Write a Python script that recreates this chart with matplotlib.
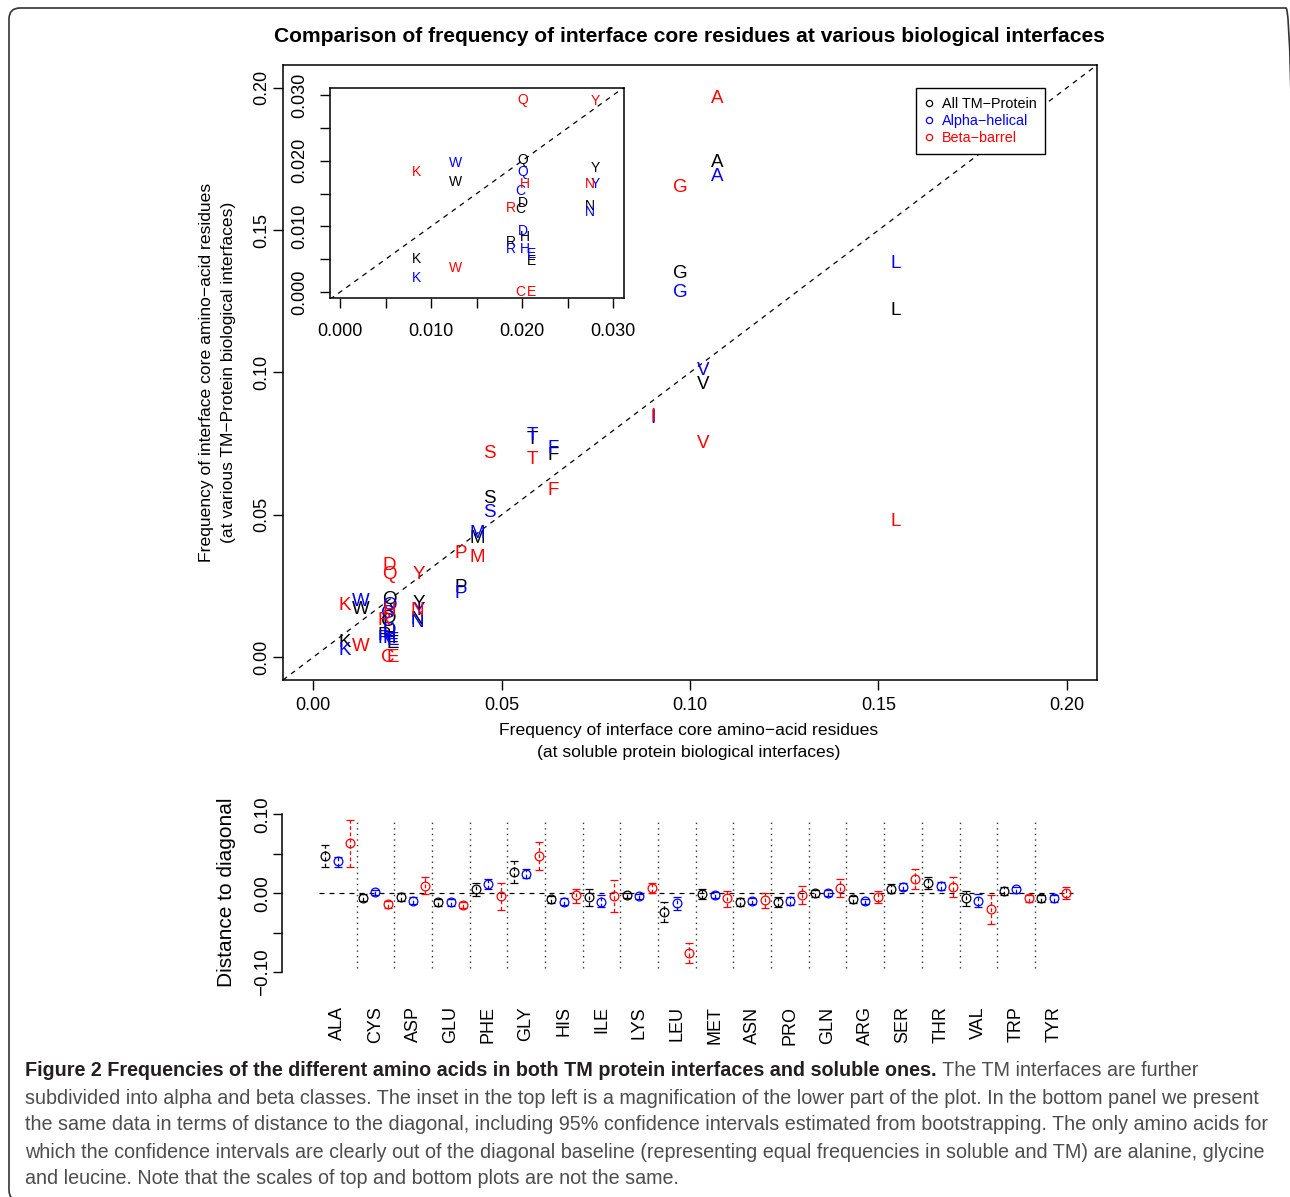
import matplotlib
matplotlib.use('Agg')
import matplotlib.pyplot as plt
from matplotlib.lines import Line2D
from matplotlib.patches import FancyBboxPatch
from matplotlib.transforms import IdentityTransform
import numpy as np

W, H = 1290, 1197
plt.rcParams['font.family'] = ['Liberation Sans', 'DejaVu Sans']

# one-letter / three-letter codes (alphabetical by one-letter code)
letters = ['A', 'C', 'D', 'E', 'F', 'G', 'H', 'I', 'K', 'L',
           'M', 'N', 'P', 'Q', 'R', 'S', 'T', 'V', 'W', 'Y']
codes3 = ['ALA', 'CYS', 'ASP', 'GLU', 'PHE', 'GLY', 'HIS', 'ILE', 'LYS', 'LEU',
          'MET', 'ASN', 'PRO', 'GLN', 'ARG', 'SER', 'THR', 'VAL', 'TRP', 'TYR']

# frequency at soluble interfaces (x) and at TM interfaces (y)
x_soluble = [0.1072, 0.0198, 0.0201, 0.0210, 0.0636, 0.0973, 0.0203, 0.0902, 0.0084, 0.1546,
             0.0435, 0.0275, 0.0391, 0.0201, 0.0188, 0.0468, 0.0581, 0.1034, 0.0127, 0.0280]
y_all = [0.1737, 0.0126, 0.0136, 0.0048, 0.0709, 0.1347, 0.0084, 0.0842, 0.0050, 0.1218,
         0.0416, 0.0131, 0.0246, 0.0202, 0.0077, 0.0557, 0.0764, 0.0958, 0.0167, 0.0189]
y_alpha = [0.1688, 0.0154, 0.0093, 0.0058, 0.0732, 0.1281, 0.0065, 0.0838, 0.0022, 0.1382,
           0.0434, 0.0122, 0.0225, 0.0183, 0.0065, 0.0510, 0.0779, 0.1007, 0.0196, 0.0165]
y_beta = [0.1961, 0.0000, 0.0323, 0.0000, 0.0586, 0.1649, 0.0164, 0.0845, 0.0183, 0.0477,
          0.0350, 0.0165, 0.0364, 0.0292, 0.0128, 0.0715, 0.0694, 0.0751, 0.0037, 0.0291]

# distance to diagonal with 95% bootstrap CI (centre, low, high)
dist_all = [0.0476, -0.0055, -0.0043, -0.0114, 0.0054, 0.0274, -0.0076, -0.0043, -0.0026, -0.0232,
            -0.0009, -0.0106, -0.0106, 0.0000, -0.0076, 0.0059, 0.0126, -0.0055, 0.0033, -0.0064]
lo_all = [0.0329, -0.0097, -0.0093, -0.0157, -0.0034, 0.0126, -0.0123, -0.0157, -0.0059, -0.0359,
          -0.0076, -0.0157, -0.0169, -0.0051, -0.0119, 0.0000, 0.0050, -0.0161, -0.0017, -0.0106]
hi_all = [0.0611, -0.0013, 0.0000, -0.0072, 0.0135, 0.0409, -0.0038, 0.0050, 0.0008, -0.0106,
          0.0054, -0.0064, -0.0051, 0.0042, -0.0034, 0.0118, 0.0202, 0.0033, 0.0076, -0.0022]

dist_alpha = [0.0405, 0.0013, -0.0093, -0.0114, 0.0114, 0.0249, -0.0106, -0.0106, -0.0034, -0.0127,
              -0.0017, -0.0097, -0.0097, 0.0008, -0.0102, 0.0084, 0.0097, -0.0093, 0.0050, -0.0064]
lo_alpha = [0.0337, -0.0026, -0.0135, -0.0165, 0.0059, 0.0189, -0.0148, -0.0178, -0.0068, -0.0211,
            -0.0059, -0.0140, -0.0148, -0.0034, -0.0140, 0.0042, 0.0042, -0.0169, 0.0008, -0.0106]
hi_alpha = [0.0464, 0.0046, -0.0051, -0.0068, 0.0181, 0.0308, -0.0064, -0.0022, -0.0005, -0.0051,
            0.0021, -0.0055, -0.0051, 0.0042, -0.0068, 0.0126, 0.0139, -0.0009, 0.0084, -0.0022]

dist_beta = [0.0633, -0.0140, 0.0097, -0.0148, -0.0038, 0.0476, -0.0026, -0.0034, 0.0071, -0.0752,
             -0.0064, -0.0085, -0.0022, 0.0067, -0.0043, 0.0177, 0.0084, -0.0203, -0.0064, 0.0008]
lo_beta = [0.0329, -0.0182, -0.0008, -0.0190, -0.0211, 0.0295, -0.0119, -0.0241, 0.0000, -0.0878,
           -0.0169, -0.0190, -0.0140, -0.0051, -0.0119, 0.0050, -0.0043, -0.0389, -0.0106, -0.0067]
hi_beta = [0.0924, -0.0102, 0.0202, -0.0110, 0.0135, 0.0654, 0.0059, 0.0168, 0.0126, -0.0625,
           0.0033, 0.0008, 0.0097, 0.0185, 0.0033, 0.0303, 0.0202, -0.0022, -0.0022, 0.0084]

series_names = ['All TM\u2212Protein', 'Alpha\u2212helical', 'Beta\u2212barrel']
series_colors = ['black', '#0000ff', '#ff0000']

title = 'Comparison of frequency of interface core residues at various biological interfaces'
caption_bold = 'Figure 2 Frequencies of the different amino acids in both TM protein interfaces and soluble ones.'
caption_lines = [
    ' The TM interfaces are further',
    'subdivided into alpha and beta classes. The inset in the top left is a magnification of the lower part of the plot. In the bottom panel we present',
    'the same data in terms of distance to the diagonal, including 95% confidence intervals estimated from bootstrapping. The only amino acids for',
    'which the confidence intervals are clearly out of the diagonal baseline (representing equal frequencies in soluble and TM) are alanine, glycine',
    'and leucine. Note that the scales of top and bottom plots are not the same.',
]

fig = plt.figure(figsize=(W / 100, H / 100), dpi=100)


def fx(px):
    return px / W


def fy(py):
    return 1 - py / H


def axes_px(l, t, r, b):
    return fig.add_axes([l / W, 1 - b / H, (r - l) / W, (b - t) / H])


def fit_width(txt, target):
    fig.canvas.draw()
    w = txt.get_window_extent(fig.canvas.get_renderer()).width
    txt.set_fontsize(txt.get_fontsize() * target / w)


ys_list = [y_all, y_alpha, y_beta]

# ---------------- main scatter ----------------
ax = axes_px(283, 65, 1097, 680)
ax.set_xlim(-0.008, 0.208)
ax.set_ylim(-0.008, 0.208)
ax.plot([-0.008, 0.208], [-0.008, 0.208], ls=(0, (4, 4)), color='black', lw=0.9)
for ys, c in zip(ys_list, series_colors):
    for lt, xv, yv in zip(letters, x_soluble, ys):
        ax.text(xv, yv, lt, color=c, fontsize=13.5, ha='center', va='center', clip_on=True)

ticks = [0.0, 0.05, 0.10, 0.15, 0.20]
ax.set_xticks(ticks)
ax.set_xticklabels([f'{t:.2f}' for t in ticks])
ax.set_yticks(ticks)
ax.set_yticklabels([f'{t:.2f}' for t in ticks])
ax.tick_params(direction='out', length=7.5, width=1, labelsize=13)
ax.tick_params(axis='x', pad=4.5)
ax.tick_params(axis='y', pad=1.5, labelrotation=90)
for lbl in ax.get_yticklabels():
    lbl.set_va('center')
for s in ax.spines.values():
    s.set_linewidth(1.1)

handles = [Line2D([], [], marker='o', ls='none', mfc='none', mec=c, ms=4.5, mew=0.9)
           for c in series_colors]
leg = ax.legend(handles, series_names, loc='upper left', bbox_to_anchor=(fx(916), fy(88)),
                bbox_transform=fig.transFigure, frameon=True, fancybox=False, fontsize=10.4,
                handlelength=0.6, handletextpad=0.6, borderpad=0.6, labelspacing=0.22,
                borderaxespad=0, framealpha=1)
leg.get_frame().set_edgecolor('black')
leg.get_frame().set_linewidth(1.0)
for t, c in zip(leg.get_texts(), series_colors):
    t.set_color(c)

# ---------------- inset ----------------
axi = axes_px(330, 88, 624, 298)
axi.set_xlim(-0.0011, 0.0312)
axi.set_ylim(-0.0009, 0.0311)
axi.plot([-0.0011, 0.0312], [-0.0011, 0.0312], ls=(0, (4, 4)), color='black', lw=0.9)
for ys, c in zip(ys_list, series_colors):
    for lt, xv, yv in zip(letters, x_soluble, ys):
        axi.text(xv, yv, lt, color=c, fontsize=10, ha='center', va='center', clip_on=True)
iticks = np.arange(0, 0.0301, 0.005)
axi.set_xticks(iticks)
axi.set_xticklabels([f'{t:.3f}' if round(t * 1000) % 10 == 0 else '' for t in iticks])
axi.set_yticks(iticks)
axi.set_yticklabels([f'{t:.3f}' if round(t * 1000) % 10 == 0 else '' for t in iticks])
axi.tick_params(direction='out', length=7.5, width=1, labelsize=13)
axi.tick_params(axis='x', pad=10.5)
axi.tick_params(axis='y', pad=8, labelrotation=90)
for lbl in axi.get_yticklabels():
    lbl.set_va('center')
for s in axi.spines.values():
    s.set_linewidth(1.1)

# ---------------- axis labels / title ----------------
t_title = fig.text(fx(689), fy(36), title, ha='center', va='center', fontweight='bold', fontsize=15)
xl1 = fig.text(fx(689), fy(731), 'Frequency of interface core amino\u2212acid residues',
               ha='center', va='center', fontsize=13)
xl2 = fig.text(fx(689), fy(752), '(at soluble protein biological interfaces)',
               ha='center', va='center', fontsize=13)
yl1 = fig.text(fx(207), fy(372), 'Frequency of interface core amino\u2212acid residues',
               ha='center', va='center', rotation=90, fontsize=13)
yl2 = fig.text(fx(229), fy(372), '(at various TM\u2212Protein biological interfaces)',
               ha='center', va='center', rotation=90, fontsize=13)

# ---------------- bottom panel ----------------
axb = axes_px(282, 808, 1099, 978.6)
axb.set_xlim(-0.477, 21.2)
axb.set_ylim(-0.108, 0.108)
pos = np.arange(1, len(letters) + 1)
axb.plot([0.5, 20.5], [0, 0], ls=(0, (4, 4)), color='black', lw=0.9)
axb.vlines(np.arange(1.5, 20, 1), -0.095, 0.095, colors='#333333',
           linestyles=(0, (1, 3)), lw=1.0)
bottom_sets = [(dist_all, lo_all, hi_all), (dist_alpha, lo_alpha, hi_alpha),
               (dist_beta, lo_beta, hi_beta)]
for (d, lo, hi), c, dx in zip(bottom_sets, series_colors, [-0.33, 0.0, 0.33]):
    d = np.array(d)
    err = [d - np.array(lo), np.array(hi) - d]
    eb = axb.errorbar(pos + dx, d, yerr=err, fmt='o', ms=6.3, mfc='none', mec=c, mew=0.9,
                      ecolor=c, elinewidth=0.9, capsize=2.9, capthick=0.9)
    eb[2][0].set_linestyle((0, (3, 2)))

for side in ['top', 'right', 'bottom']:
    axb.spines[side].set_visible(False)
axb.spines['left'].set_bounds(-0.10, 0.10)
axb.spines['left'].set_linewidth(1.1)
bt = [-0.10, -0.05, 0.0, 0.05, 0.10]
axb.set_yticks(bt)
axb.set_yticklabels(['\u22120.10', '', '0.00', '', '0.10'])
axb.tick_params(axis='y', direction='out', length=6.5, width=1, labelsize=13.5,
                pad=1.5, labelrotation=90)
for lbl in axb.get_yticklabels():
    lbl.set_va('center')
axb.set_xticks(pos)
axb.set_xticklabels(codes3, rotation=90)
axb.tick_params(axis='x', length=0, pad=20, labelsize=13)
fig.text(fx(226.7), fy(892), 'Distance to diagonal', ha='center', va='center',
         rotation=90, fontsize=15)

# ---------------- caption ----------------
cap_size = 14
cb = fig.text(fx(25), fy(1071), caption_bold, ha='left', va='center', fontsize=cap_size,
              fontweight='bold', color='#231f20')
rest = []
ypos = [1071, 1098, 1125, 1152, 1178]
for i, line in enumerate(caption_lines):
    if i == 0:
        t = fig.text(0, 0, line, fontsize=cap_size, color='#4d4d4d', ha='left', va='center')
    else:
        t = fig.text(fx(25), fy(ypos[i]), line, ha='left', va='center', fontsize=cap_size,
                     color='#4d4d4d')
    rest.append(t)

# size fitting of text blocks to reference widths
fit_width(t_title, 832)
fit_width(xl1, 378)
xl2.set_fontsize(xl1.get_fontsize())
yl1.set_fontsize(xl1.get_fontsize())
yl2.set_fontsize(xl1.get_fontsize())
fit_width(rest[1], 1237)
for t in rest + [cb]:
    t.set_fontsize(rest[1].get_fontsize())
fig.canvas.draw()
bb = cb.get_window_extent(fig.canvas.get_renderer())
rest[0].set_position((bb.x1 / W, fy(ypos[0])))

frame = FancyBboxPatch((9, H - 1201), 1297 - 9, 1201 - 8,
                       boxstyle='round,pad=0,rounding_size=11', fill=False,
                       ec='#333333', lw=1.2, transform=IdentityTransform())
fig.add_artist(frame)

fig.savefig('out.png', dpi=100)
